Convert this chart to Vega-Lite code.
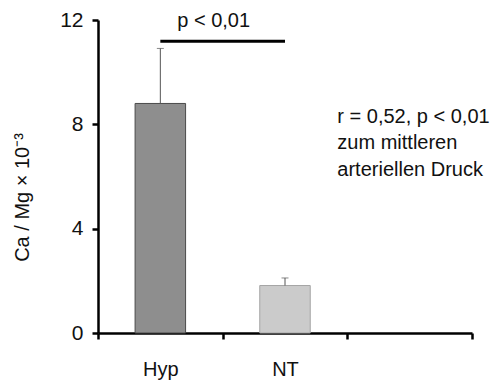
{
  "$schema": "https://vega.github.io/schema/vega-lite/v6.json",
  "width": 374,
  "height": 313,
  "autosize": {"type": "none"},
  "padding": {"left": 98, "top": 20, "right": 19, "bottom": 48},
  "background": "white",
  "config": {
    "view": {"stroke": null},
    "font": "Liberation Sans",
    "axis": {"grid": false, "domainColor": "black", "tickColor": "black", "labelColor": "#111", "titleColor": "#111", "labelFont": "Liberation Sans", "titleFont": "Liberation Sans"}
  },
  "datasets": {
    "bars": [
      {"group": "Hyp", "value": 8.80, "upper": 10.91},
      {"group": "NT", "value": 1.82, "upper": 2.11}
    ],
    "sig": [{"from": "Hyp", "to": "NT", "y": 11.19, "ty": 11.72, "label": "p < 0,01"}],
    "note": [{"x": "z", "y": 8.07, "label": "r = 0,52, p < 0,01\nzum mittleren\narteriellen Druck"}]
  },
  "layer": [
    {
      "data": {"name": "bars"},
      "mark": {"type": "bar", "width": {"band": 0.405}, "strokeWidth": 1},
      "encoding": {
        "x": {
          "field": "group", "type": "nominal",
          "scale": {"domain": ["Hyp", "NT", "z"], "paddingInner": 0, "paddingOuter": 0},
          "axis": {
            "title": null, "labelAngle": 0, "tickBand": "extent",
            "labelExpr": "datum.value == 'z' ? '' : datum.value",
            "labelFontSize": 20, "labelFontWeight": "normal", "labelPadding": 20,
            "domainWidth": 2.5, "tickWidth": 2.5, "tickSize": 6
          }
        },
        "y": {
          "field": "value", "type": "quantitative",
          "scale": {"domain": [0, 12], "nice": false},
          "axis": {
            "values": [0, 4, 8, 12], "title": "Ca / Mg × 10⁻³",
            "titleFontSize": 20, "titleFontWeight": "normal",
            "titleX": -70, "titleY": 177, "titleBaseline": "alphabetic", "titleAngle": -90,
            "labelFontSize": 21, "labelPadding": 9,
            "domainWidth": 2.5, "tickWidth": 2.5, "tickSize": 6
          }
        },
        "color": {
          "field": "group", "type": "nominal", "legend": null,
          "scale": {"domain": ["Hyp", "NT"], "range": ["#8e8e8e", "#cbcbcb"]}
        },
        "stroke": {
          "field": "group", "type": "nominal", "legend": null,
          "scale": {"domain": ["Hyp", "NT"], "range": ["#4a4a4a", "#a5a5a5"]}
        }
      }
    },
    {
      "data": {"name": "bars"},
      "mark": {"type": "rule", "color": "#555", "strokeWidth": 1},
      "encoding": {
        "x": {"field": "group", "type": "nominal"},
        "y": {"field": "value", "type": "quantitative"},
        "y2": {"field": "upper"}
      }
    },
    {
      "data": {"name": "bars"},
      "mark": {"type": "tick", "color": "#555", "thickness": 1, "size": 7, "orient": "horizontal"},
      "encoding": {
        "x": {"field": "group", "type": "nominal"},
        "y": {"field": "upper", "type": "quantitative"}
      }
    },
    {
      "data": {"name": "sig"},
      "mark": {"type": "rule", "color": "black", "strokeWidth": 3},
      "encoding": {
        "x": {"field": "from", "type": "nominal"},
        "x2": {"field": "to"},
        "y": {"field": "y", "type": "quantitative"}
      }
    },
    {
      "data": {"name": "sig"},
      "mark": {"type": "text", "fontSize": 20, "color": "#111", "align": "center", "baseline": "alphabetic", "dx": -9},
      "encoding": {
        "x": {"field": "to", "type": "nominal", "bandPosition": 0},
        "y": {"field": "ty", "type": "quantitative"},
        "text": {"field": "label"}
      }
    },
    {
      "data": {"name": "note"},
      "mark": {"type": "text", "fontSize": 20, "color": "#111", "align": "left", "baseline": "alphabetic", "lineBreak": "\n", "lineHeight": 26.5, "dx": -10},
      "encoding": {
        "x": {"field": "x", "type": "nominal", "bandPosition": 0},
        "y": {"field": "y", "type": "quantitative"},
        "text": {"field": "label"}
      }
    }
  ]
}
